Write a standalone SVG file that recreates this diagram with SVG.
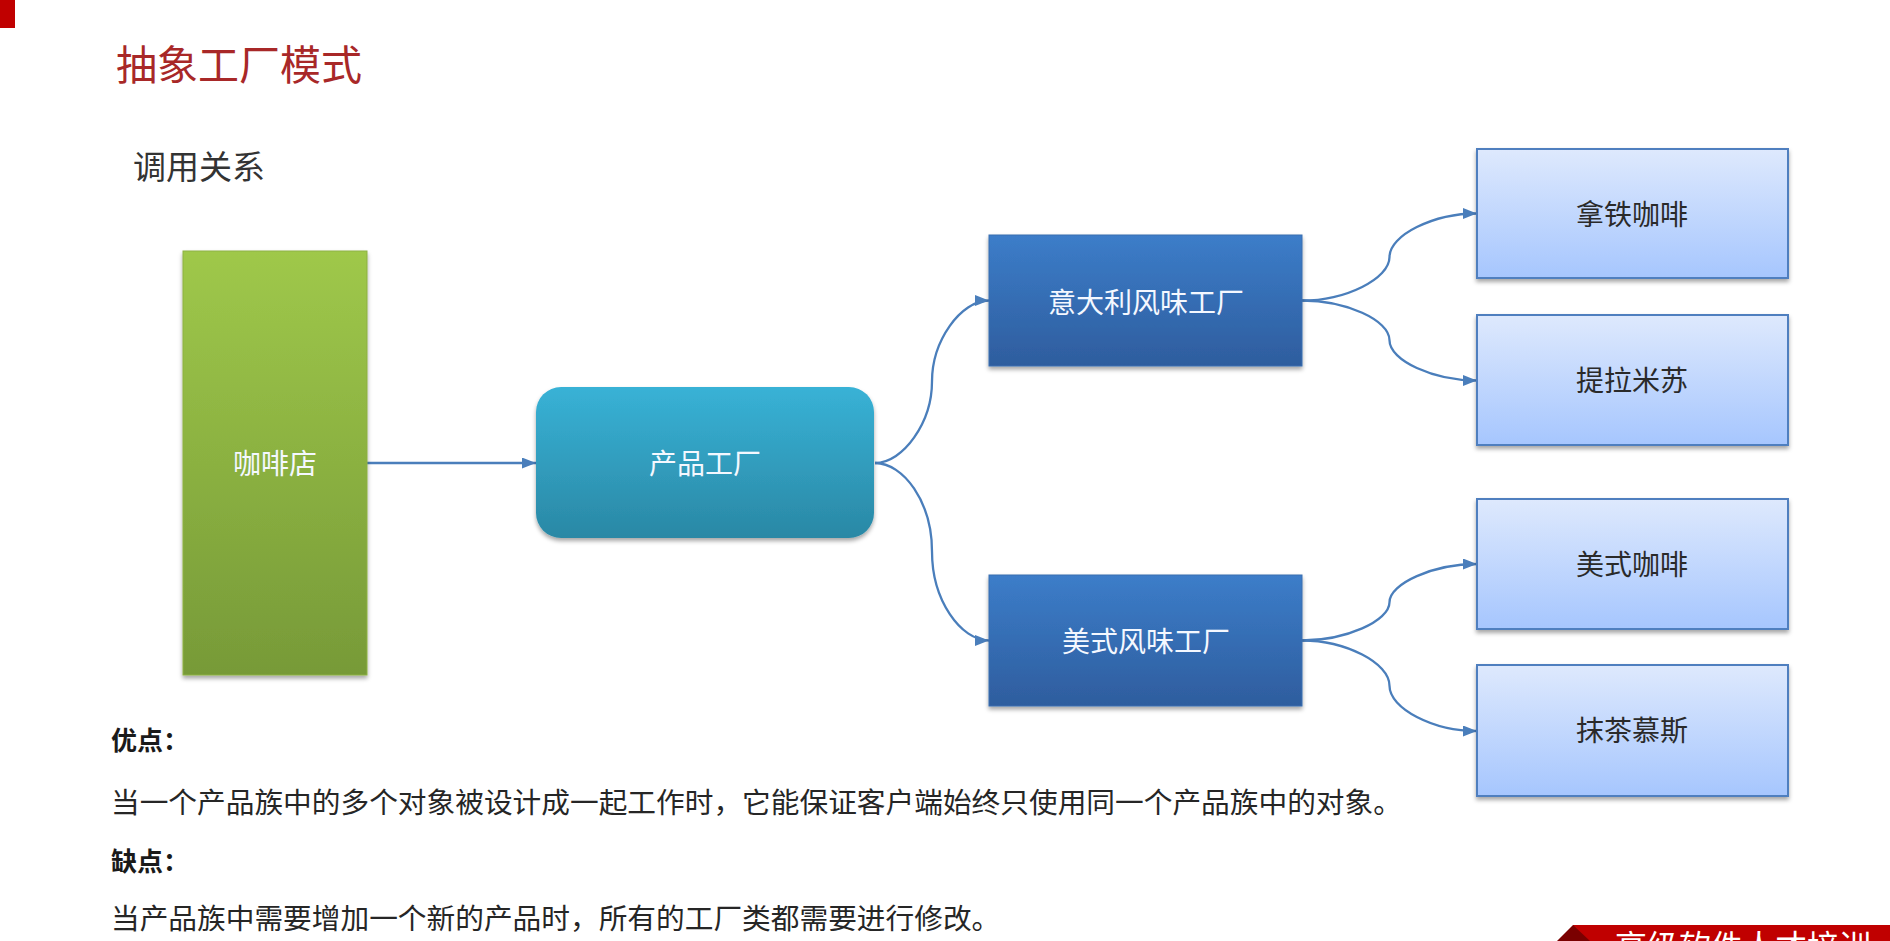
<svg xmlns="http://www.w3.org/2000/svg" width="1890" height="941" viewBox="0 0 1890 941">
<defs>
<linearGradient id="gGreen" x1="0" y1="0" x2="0" y2="1"><stop offset="0" stop-color="#9fc84a"/><stop offset="1" stop-color="#779a38"/></linearGradient>
<linearGradient id="gTeal" x1="0" y1="0" x2="0" y2="1"><stop offset="0" stop-color="#38b2d6"/><stop offset="1" stop-color="#2a88a5"/></linearGradient>
<linearGradient id="gBlue" x1="0" y1="0" x2="0" y2="1"><stop offset="0" stop-color="#3c7dc9"/><stop offset="1" stop-color="#2e5d9e"/></linearGradient>
<linearGradient id="gLight" x1="0" y1="0" x2="0" y2="1"><stop offset="0" stop-color="#dee9fd"/><stop offset="1" stop-color="#a6c6fe"/></linearGradient>
<filter id="sh" x="-10%" y="-10%" width="120%" height="130%"><feDropShadow dx="0" dy="3" stdDeviation="2" flood-color="#000" flood-opacity="0.35"/></filter>
<marker id="arr" viewBox="0 0 14 11" refX="14" refY="5.5" markerWidth="14" markerHeight="11" markerUnits="userSpaceOnUse" orient="auto"><path d="M0,0 L14,5.5 L0,11 Z" fill="#4a7ebb"/></marker>
<style>
.cjk{font-family:"Noto Sans CJK SC","Noto Sans",sans-serif;}
.nodeW{font-size:28px;fill:#f4f8ff;text-anchor:middle;}
.nodeD{font-size:28px;fill:#2a2a2a;text-anchor:middle;}
.light{fill:url(#gLight);stroke:#4f7fbf;stroke-width:2;}
.dark{fill:url(#gBlue);stroke:#3a6fb0;stroke-width:1;}
.conn{fill:none;stroke:#4a7ebb;stroke-width:2.3;marker-end:url(#arr);}
.body{font-size:28.7px;fill:#262626;}
.label{font-size:26px;font-weight:bold;fill:#1a1a1a;}
</style>
</defs>
<rect width="1890" height="941" fill="#ffffff"/>
<rect x="0" y="0" width="15" height="28" fill="#c00000"/>
<text class="cjk" x="116" y="80" font-size="41" fill="#a82828">抽象工厂模式</text>
<text class="cjk" x="133" y="179" font-size="33" fill="#333333">调用关系</text>

<g id="connectors">
<path class="conn" d="M367,463 L536,463"/>
<path class="conn" d="M875,463 C903.5,463 932,422 932,381.5 C932,341 960.5,300.5 989,300.5"/>
<path class="conn" d="M875,463 C903.5,463 932,502 932,551.5 C932,600 960.5,640.5 989,640.5"/>
<path class="conn" d="M1302,300.5 C1345.75,300.5 1389.5,278.75 1389.5,257 C1389.5,235.25 1433.25,213.5 1477,213.5"/>
<path class="conn" d="M1302,300.5 C1345.75,300.5 1389.5,320 1389.5,340.25 C1389.5,360.5 1433.25,380.5 1477,380.5"/>
<path class="conn" d="M1302,640.5 C1345.75,640.5 1389.5,621 1389.5,602.25 C1389.5,583.5 1433.25,564 1477,564"/>
<path class="conn" d="M1302,640.5 C1345.75,640.5 1389.5,663 1389.5,685.75 C1389.5,708.5 1433.25,731 1477,731"/>
</g>

<g id="coffee-shop">
<rect x="183" y="251" width="184" height="424" fill="url(#gGreen)" stroke="#8db143" stroke-width="1" filter="url(#sh)"/>
<text class="cjk nodeW" x="275" y="474">咖啡店</text>
</g>
<g id="product-factory">
<rect x="536" y="387" width="338" height="151" rx="25" ry="25" fill="url(#gTeal)" filter="url(#sh)"/>
<text class="cjk nodeW" x="705" y="474">产品工厂</text>
</g>
<g id="italian-factory">
<rect class="dark" x="989" y="235" width="313" height="131" filter="url(#sh)"/>
<text class="cjk nodeW" x="1146" y="313">意大利风味工厂</text>
</g>
<g id="american-factory">
<rect class="dark" x="989" y="575" width="313" height="131" filter="url(#sh)"/>
<text class="cjk nodeW" x="1146" y="652">美式风味工厂</text>
</g>
<g id="latte">
<rect class="light" x="1477" y="149" width="311" height="129" filter="url(#sh)"/>
<text class="cjk nodeD" x="1632" y="225">拿铁咖啡</text>
</g>
<g id="tiramisu">
<rect class="light" x="1477" y="315" width="311" height="130" filter="url(#sh)"/>
<text class="cjk nodeD" x="1632" y="391">提拉米苏</text>
</g>
<g id="american-coffee">
<rect class="light" x="1477" y="499" width="311" height="130" filter="url(#sh)"/>
<text class="cjk nodeD" x="1632" y="575">美式咖啡</text>
</g>
<g id="matcha-mousse">
<rect class="light" x="1477" y="665" width="311" height="131" filter="url(#sh)"/>
<text class="cjk nodeD" x="1632" y="741">抹茶慕斯</text>
</g>

<text class="cjk label" x="111" y="750">优点：</text>
<text class="cjk body" x="111" y="813">当一个产品族中的多个对象被设计成一起工作时，它能保证客户端始终只使用同一个产品族中的对象。</text>
<text class="cjk label" x="111" y="871">缺点：</text>
<text class="cjk body" x="111" y="929">当产品族中需要增加一个新的产品时，所有的工厂类都需要进行修改。</text>

<g id="banner">
<rect x="1573" y="925" width="317" height="16" fill="#c00000"/>
<polygon points="1573,925 1557,941 1590,941" fill="#7a0000"/>
<text class="cjk" x="1615" y="958" font-size="32" fill="#ffffff">高级软件人才培训</text>
</g>
</svg>
